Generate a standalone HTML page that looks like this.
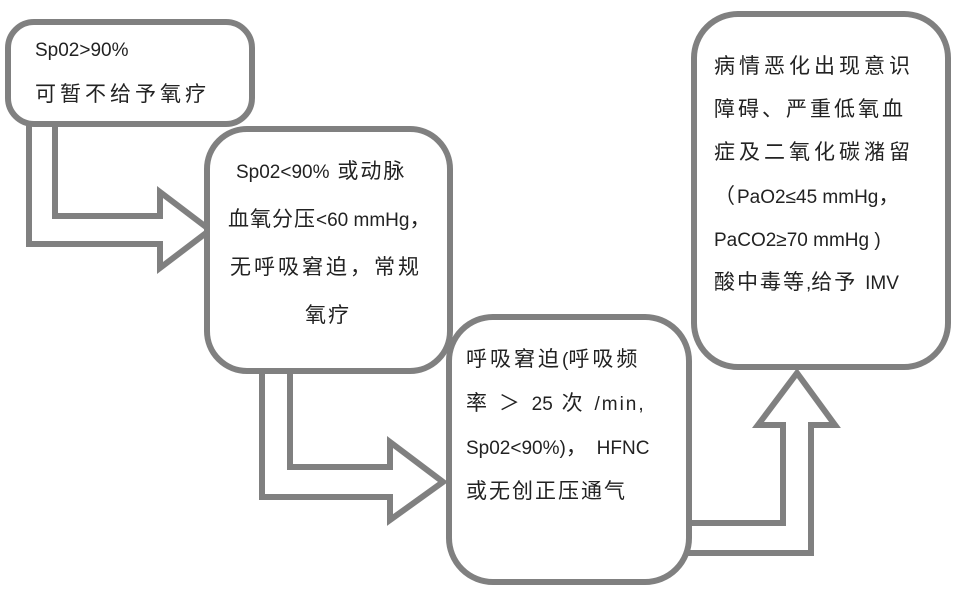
<!DOCTYPE html>
<html><head><meta charset="utf-8"><style>
body{margin:0;width:960px;height:596px;background:#fff;position:relative;overflow:hidden;font-family:"Liberation Sans","Noto Sans CJK SC",sans-serif;color:#222}
svg{position:absolute;left:0;top:0}
.t{position:absolute;font-size:21px;white-space:nowrap;line-height:26px;letter-spacing:2px}
.l{font-size:19px;letter-spacing:0}
</style></head><body>
<svg width="960" height="596">
<g fill="#fff" stroke="#808080" stroke-width="6" stroke-linejoin="miter">
<polygon points="29,115 29,244 160,244 160,268 210,230 160,192 160,216 55,216 55,115"/>
<polygon points="262,362 262,497 390,497 390,520 443,482 390,442 390,467 290,467 290,362"/>
<polygon points="680,553 811,553 811,425 835,425 797,373 758,425 783,425 783,523 680,523"/>
<rect x="8" y="22" width="244" height="102" rx="26"/>
<rect x="207" y="129" width="243" height="242" rx="40"/>
<rect x="449" y="317" width="240" height="265" rx="44"/>
<rect x="694" y="14" width="254" height="353" rx="44"/>
</g>
</svg>
<div class="t" style="left:35px;top:37px"><span class="l">Sp02&gt;90%</span></div>
<div class="t" style="left:35px;top:82px;letter-spacing:4px">可暂不给予氧疗</div>
<div class="t" style="left:236px;top:159px"><span class="l">Sp02&lt;90%</span> 或动脉</div>
<div class="t" style="left:228px;top:207px;letter-spacing:1px">血氧分压<span class="l">&lt;60 mmHg</span>，</div>
<div class="t" style="left:230px;top:255px;letter-spacing:3px">无呼吸窘迫，常规</div>
<div class="t" style="left:305px;top:303px">氧疗</div>
<div class="t" style="left:466px;top:347px;letter-spacing:3px">呼吸窘迫<span class="l">(</span>呼吸频</div>
<div class="t" style="left:466px;top:391px;letter-spacing:3px">率 ＞ <span class="l">25</span> 次 <span class="l" style="letter-spacing:2px">/min,</span></div>
<div class="t" style="left:466px;top:435px"><span class="l">Sp02&lt;90%)</span>， <span class="l">HFNC</span></div>
<div class="t" style="left:466px;top:479px">或无创正压通气</div>
<div class="t" style="left:714px;top:54px;letter-spacing:4px">病情恶化出现意识</div>
<div class="t" style="left:714px;top:97px;letter-spacing:3px">障碍、严重低氧血</div>
<div class="t" style="left:714px;top:140px;letter-spacing:4px">症及二氧化碳潴留</div>
<div class="t" style="left:714px;top:184px">（<span class="l">PaO2≤45 mmHg</span>，</div>
<div class="t" style="left:714px;top:227px"><span class="l">PaCO2≥70 mmHg )</span></div>
<div class="t" style="left:714px;top:270px">酸中毒等<span class="l">,</span>给予 <span class="l">IMV</span></div>
</body></html>
